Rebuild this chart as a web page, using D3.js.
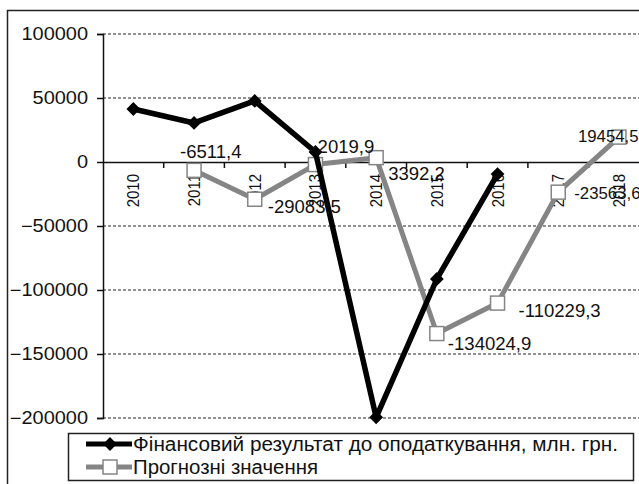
<!DOCTYPE html>
<html>
<head>
<meta charset="utf-8">
<script src="https://cdn.jsdelivr.net/npm/d3@7"></script>
<style>
  body { margin: 0; background: #fff; }
  svg { display: block; font-family: "Liberation Sans", Arial, sans-serif; }
</style>
</head>
<body>
<svg id="chart" width="639" height="484"></svg>
<script>
// data
const years = ["2010", "2011", "2012", "2013", "2014", "2015", "2016", "2017", "2018"];
const actual = [41400, 30500, 47700, 7800, -199500, -91400, -9400, null, null];
const forecast = [null, -6511.4, -29083.5, -2019.9, 3392.2, -134024.9, -110229.3, -23563.6, 19454.5];
const yTicks = [100000, 50000, 0, -50000, -100000, -150000, -200000];
const seriesNames = ["Фінансовий результат до оподаткування, млн. грн.", "Прогнозні значення"];

// label offsets from each forecast point: dx, dy, font size (layout only)
const labelOffsets = [null, [-14, -18, 17.5], [13, 8, 17.5], [-4, -18, 17.5], [12, 16, 17.5],
  [11, 10, 17.5], [21, 8, 17.5], [16, 1, 16.8], [-41, -1, 16.8]];

const stretch = 1.14; // the scan is a bit wide
const svg = d3.select("#chart");

// outer frame (cropped at right and bottom)
svg.append("path")
  .attr("d", "M7.5,484 L7.5,10.5 L639,10.5")
  .attr("fill", "none")
  .attr("stroke", "#222")
  .attr("stroke-width", 1.5);

const left = 103, step = 60.7;
const x = d3.scaleBand().domain(years).range([left, left + step * years.length]).padding(0);
const y = d3.scaleLinear().domain([-200000, 100000]).range([418, 34]);
const cx = d => x(d) + x.bandwidth() / 2;

// dashed gridlines
svg.append("g").selectAll("line")
  .data(yTicks.filter(v => v !== 0))
  .join("line")
  .attr("x1", left).attr("x2", 639)
  .attr("y1", d => y(d)).attr("y2", d => y(d))
  .attr("stroke", "#222")
  .attr("stroke-width", 1)
  .attr("stroke-dasharray", "3,2");

// y axis
const yAxis = svg.append("g")
  .attr("transform", `translate(${left},0)`)
  .call(d3.axisLeft(y).tickValues(yTicks).tickSize(6).tickFormat(d3.format("d")));
yAxis.select(".domain").attr("stroke", "#111").attr("stroke-width", 1.5);
yAxis.selectAll(".tick line").attr("stroke", "#111").attr("stroke-width", 1.5);
yAxis.selectAll("text")
  .attr("font-size", 17.5)
  .attr("fill", "#111")
  .attr("font-family", "Liberation Sans, Arial, sans-serif")
  .attr("x", -15 / stretch)
  .attr("transform", `scale(${stretch},1)`);

// x axis along zero
const xAxis = svg.append("g")
  .attr("transform", `translate(0,${y(0)})`)
  .call(d3.axisBottom(x).tickSize(0).tickSizeOuter(0));
xAxis.select(".domain").attr("stroke", "#111").attr("stroke-width", 1.5);
xAxis.selectAll(".tick text")
  .attr("font-size", 15)
  .attr("fill", "#111")
  .attr("font-family", "Liberation Sans, Arial, sans-serif")
  .attr("transform", `scale(${stretch},1) rotate(-90)`)
  .attr("text-anchor", "end")
  .attr("x", -12)
  .attr("y", 0)
  .attr("dy", "0.35em");
// boundary ticks
svg.append("g").selectAll("line")
  .data(years.slice(1))
  .join("line")
  .attr("x1", d => x(d)).attr("x2", d => x(d))
  .attr("y1", y(0)).attr("y2", y(0) + 6)
  .attr("stroke", "#111").attr("stroke-width", 1.5);

const line = d3.line()
  .defined(d => d.v !== null)
  .x(d => cx(d.year))
  .y(d => y(d.v));

const actualPts = years.map((year, i) => ({ year, v: actual[i] }));
const forecastPts = years.map((year, i) => ({ year, v: forecast[i] }));

const diamond = d3.symbol().type(d3.symbolSquare).size(95);

function drawActual(g, pts) {
  g.append("path").datum(pts)
    .attr("d", line)
    .attr("fill", "none").attr("stroke", "#000").attr("stroke-width", 5.5)
    .attr("stroke-linejoin", "round");
  g.selectAll(".dia").data(pts.filter(d => d.v !== null)).join("path")
    .attr("class", "dia")
    .attr("d", diamond)
    .attr("transform", d => `translate(${cx(d.year)},${y(d.v)}) rotate(45)`)
    .attr("fill", "#000");
}

function drawForecast(g, pts) {
  g.append("path").datum(pts)
    .attr("d", line)
    .attr("fill", "none").attr("stroke", "#858585").attr("stroke-width", 5)
    .attr("stroke-linejoin", "round");
  g.selectAll(".sq").data(pts.filter(d => d.v !== null)).join("rect")
    .attr("class", "sq")
    .attr("x", d => cx(d.year) - 7).attr("y", d => y(d.v) - 7)
    .attr("width", 14).attr("height", 14)
    .attr("fill", "#fff").attr("stroke", "#858585").attr("stroke-width", 1.5);
}

drawForecast(svg.append("g"), forecastPts);
drawActual(svg.append("g"), actualPts);

// data labels for forecast
const fmt = v => d3.format(".1f")(v).replace(".", ",").replace("−", "-");
svg.append("g").selectAll("text")
  .data(forecastPts.map((d, i) => ({ ...d, off: labelOffsets[i] })).filter(d => d.v !== null))
  .join("text")
  .attr("transform", d => `translate(${cx(d.year) + d.off[0]},${y(d.v) + d.off[1]}) scale(${d.off[2] > 17 ? 1.06 : 1},1)`)
  .attr("dy", "0.35em")
  .attr("font-size", d => d.off[2])
  .attr("fill", "#111")
  .text(d => fmt(d.v));

// legend
const lg = svg.append("g");
lg.append("rect")
  .attr("x", 68.5).attr("y", 433.5).attr("width", 565).attr("height", 47)
  .attr("fill", "#fff").attr("stroke", "#222").attr("stroke-width", 1.5);
const legendRows = [
  { name: seriesNames[0], yy: 444, color: "#000", mark: "dia", len: 485 },
  { name: seriesNames[1], yy: 467, color: "#858585", mark: "sq", len: 185 }
];
legendRows.forEach(r => {
  lg.append("line").attr("x1", 86).attr("x2", 132).attr("y1", r.yy).attr("y2", r.yy)
    .attr("stroke", r.color).attr("stroke-width", 5);
  if (r.mark === "dia") {
    lg.append("path").attr("d", diamond).attr("transform", `translate(110,${r.yy}) rotate(45)`).attr("fill", "#000");
  } else {
    lg.append("rect").attr("x", 103).attr("y", r.yy - 7).attr("width", 14).attr("height", 14)
      .attr("fill", "#fff").attr("stroke", "#858585").attr("stroke-width", 1.5);
  }
  lg.append("text").attr("x", 133).attr("y", r.yy).attr("dy", "0.35em")
    .attr("font-size", 19.5).attr("fill", "#111")
    .attr("textLength", r.len).attr("lengthAdjust", "spacingAndGlyphs")
    .text(r.name);
});
</script>
</body>
</html>
